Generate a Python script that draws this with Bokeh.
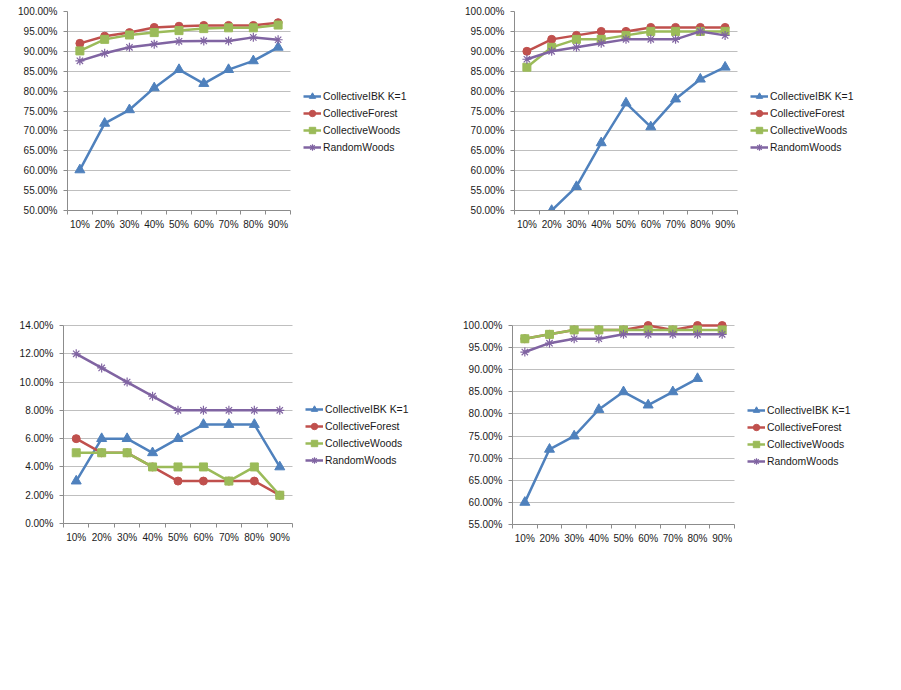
import math
from bokeh.plotting import figure
from bokeh.models import (Range1d, FixedTicker, PrintfTickFormatter, Legend, LegendItem, Grid)
from bokeh.layouts import column, row
from bokeh.embed import file_html
from bokeh.resources import INLINE

NaN = float("nan")

cats = ["10%", "20%", "30%", "40%", "50%", "60%", "70%", "80%", "90%"]
series_names = ["CollectiveIBK K=1", "CollectiveForest", "CollectiveWoods", "RandomWoods"]

# Chart 1 (top left)
a_ibk = [60.2, 71.9, 75.3, 80.8, 85.4, 81.9, 85.4, 87.6, 91.0]
a_forest = [92.0, 93.8, 94.7, 96.0, 96.3, 96.5, 96.5, 96.5, 97.2]
a_woods = [90.1, 93.0, 94.1, 94.7, 95.2, 95.7, 95.9, 95.9, 96.6]
a_random = [87.6, 89.5, 91.0, 91.8, 92.5, 92.6, 92.6, 93.5, 92.9]

# Chart 2 (top right)
b_ibk = [NaN, 50, 56, 67, 77, 71, 78, 83, 86]
b_forest = [90, 93, 94, 95, 95, 96, 96, 96, 96]
b_woods = [86, 91, 93, 93, 94, 95, 95, 95, 95]
b_random = [88, 90, 91, 92, 93, 93, 93, 95, 94]

# Chart 3 (bottom left)
c_ibk = [3, 6, 6, 5, 6, 7, 7, 7, 4]
c_forest = [6, 5, 5, 4, 3, 3, 3, 3, 2]
c_woods = [5, 5, 5, 4, 4, 4, 3, 4, 2]
c_random = [12, 11, 10, 9, 8, 8, 8, 8, 8]

# Chart 4 (bottom right)
d_ibk = [60, 72, 75, 81, 85, 82, 85, 88, NaN]
d_forest = [97, 98, 99, 99, 99, 100, 99, 100, 100]
d_woods = [97, 98, 99, 99, 99, 99, 99, 99, 99]
d_random = [94, 96, 97, 97, 98, 98, 98, 98, 98]

# y axis ticks
ticks_a = [50, 55, 60, 65, 70, 75, 80, 85, 90, 95, 100]
ticks_c = [0, 2, 4, 6, 8, 10, 12, 14]
ticks_d = [55, 60, 65, 70, 75, 80, 85, 90, 95, 100]

COLORS = ["#4F81BD", "#C0504D", "#9BBB59", "#8064A2"]
MARKERS = ["triangle", "circle", "square", "asterisk"]
MSIZES = [10, 8, 8, 9]
FONT = "Liberation Sans"
TXT = "#1a1a1a"
GRID = "#BFBFBF"
AXIS = "#8C8C8C"

HAS_CROSS = "cross_bounds" in Grid.properties()


def make_chart(series, yticks, w, left, top, plot_w, plot_h, headroom, bottom):
    """plot_h: pixel height of the axis span; headroom: extra frame pixels above it
    (so markers at the top value are not clipped)."""
    n = len(cats)
    xs = [i + 0.5 for i in range(n)]
    fw = w - left                      # frame holds plot area + legend area
    x_end = n * fw / plot_w            # keeps plot area at plot_w pixels
    fh = plot_h + headroom
    y0, y1 = yticks[0], yticks[-1]
    y_end = y1 + headroom * (y1 - y0) / plot_h
    p = figure(frame_width=fw, frame_height=fh,
               min_border_left=left, min_border_top=top,
               min_border_right=0, min_border_bottom=bottom,
               x_range=Range1d(0, x_end), y_range=Range1d(y0, y_end),
               output_backend="svg", toolbar_location=None, tools="")
    p.outline_line_color = None
    p.background_fill_color = "white"
    p.border_fill_color = "white"
    p.xgrid.grid_line_color = None
    if HAS_CROSS:
        p.ygrid.grid_line_color = GRID
        p.ygrid.grid_line_width = 1
        p.ygrid.cross_bounds = (0, n)
    else:
        p.ygrid.grid_line_color = None
        p.segment(x0=[0] * len(yticks), x1=[n] * len(yticks), y0=yticks, y1=yticks,
                  line_color=GRID, line_width=1, level="underlay")

    # x axis: labels at category centres, small ticks at category boundaries
    xa = p.xaxis[0]
    xa.ticker = FixedTicker(ticks=xs, minor_ticks=list(range(n + 1)))
    xa.bounds = (0, n)
    xa.major_label_overrides = {x: c for x, c in zip(xs, cats)}
    xa.major_tick_out = 0
    xa.major_tick_in = 0
    xa.minor_tick_out = 4
    xa.minor_tick_in = 0
    xa.minor_tick_line_color = AXIS
    xa.axis_line_color = AXIS
    xa.major_label_standoff = 4
    xa.major_label_text_font = FONT
    xa.major_label_text_font_size = "10px"
    xa.major_label_text_color = TXT

    ya = p.yaxis[0]
    ya.ticker = FixedTicker(ticks=yticks)
    ya.bounds = (y0, y1)
    ya.formatter = PrintfTickFormatter(format="%.2f%%")
    ya.major_tick_out = 4
    ya.major_tick_in = 0
    ya.minor_tick_line_color = None
    ya.major_tick_line_color = AXIS
    ya.axis_line_color = AXIS
    ya.major_label_standoff = 6
    ya.major_label_text_font = FONT
    ya.major_label_text_font_size = "10px"
    ya.major_label_text_color = TXT

    items = []
    for name, ys, col, mk, ms in zip(series_names, series, COLORS, MARKERS, MSIZES):
        l = p.line(xs, ys, line_color=col, line_width=2.5)
        if mk == "asterisk":
            s = p.scatter(xs, ys, marker=mk, size=ms, line_color=col, line_width=1.2)
        else:
            s = p.scatter(xs, ys, marker=mk, size=ms, fill_color=col, line_color=col)
        items.append(LegendItem(label=name, renderers=[l, s]))

    leg = Legend(items=items, location=(plot_w + 13, 55))
    leg.padding = 0
    leg.margin = 0
    leg.spacing = 1
    leg.glyph_width = 18
    leg.glyph_height = 16
    leg.label_height = 16
    leg.label_standoff = 2
    leg.label_text_font = FONT
    leg.label_text_font_size = "10.4px"
    leg.label_text_color = TXT
    leg.border_line_color = None
    leg.background_fill_alpha = 0
    p.add_layout(leg, "center")
    return p


p1 = make_chart([a_ibk, a_forest, a_woods, a_random], ticks_a, 450, 67, 11, 223, 199, 0, 90)
p2 = make_chart([b_ibk, b_forest, b_woods, b_random], ticks_a, 443, 64, 11, 223, 199, 0, 90)
p3 = make_chart([c_ibk, c_forest, c_woods, c_random], ticks_c, 450, 63, 20, 229, 198, 5, 152)
p4 = make_chart([d_ibk, d_forest, d_woods, d_random], ticks_d, 443, 62, 20, 222, 199, 5, 152)

layout = column(row(p1, p2, spacing=0), row(p3, p4, spacing=0), spacing=0)
open("out.html", "w").write(file_html(layout, INLINE))
